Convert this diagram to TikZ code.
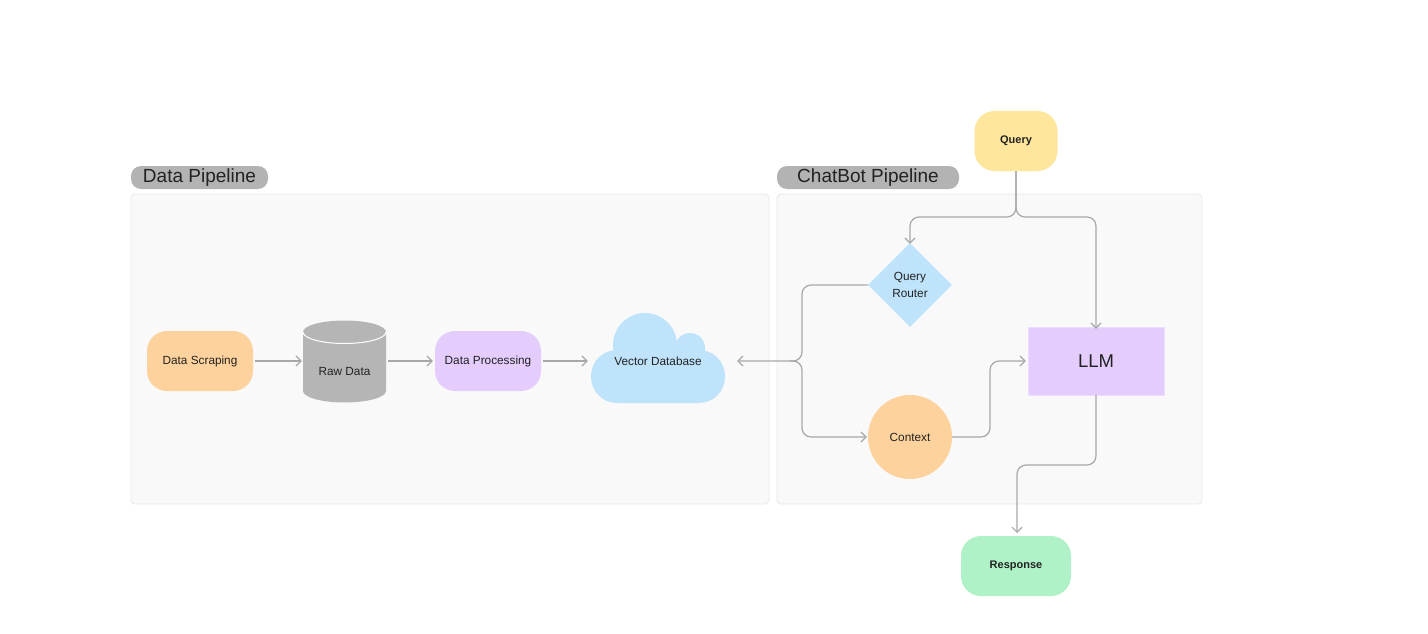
\documentclass[tikz,border=0pt]{standalone}
\usepackage{fontspec}
\setmainfont{Liberation Sans}
\usetikzlibrary{arrows.meta,shapes.geometric}
\definecolor{linec}{HTML}{A8A8A8}
\definecolor{boxfill}{HTML}{F9F9F9}
\definecolor{boxline}{HTML}{E8E8E8}
\definecolor{pillc}{HTML}{B3B3B3}
\definecolor{orangec}{HTML}{FDD29D}
\definecolor{lavc}{HTML}{E4CDFD}
\definecolor{bluec}{HTML}{BEE3FB}
\definecolor{yellowc}{HTML}{FEE69D}
\definecolor{greenc}{HTML}{B0F2C8}
\definecolor{rawc}{HTML}{B5B5B5}
\definecolor{txtc}{HTML}{222222}
\tikzset{
  container/.style={draw=boxline, fill=boxfill, line width=0.8pt, rounded corners=4pt},
  pill/.style={fill=pillc, rounded corners=10pt, minimum height=23pt, inner sep=0pt, text=txtc, font=\fontsize{19}{22}\selectfont},
  small/.style={font=\fontsize{11.8}{17}\selectfont, text=txtc},
  smallb/.style={font=\fontsize{11}{17}\selectfont\bfseries, text=txtc},
  rbox/.style={rounded corners=20pt, inner sep=0pt},
  conn/.style={draw=linec, line width=1.2pt, rounded corners=9pt},
  arr/.style={conn, -{Straight Barb[length=5pt,width=10pt]}},
}
\begin{document}
\begin{tikzpicture}[x=1pt,y=-1pt]
\useasboundingbox[fill=white] (0,0) rectangle (1428,634);
% containers
\draw[container] (131,194) rectangle (769,504);
\draw[container] (777,194) rectangle (1202,504);
\node[pill, minimum width=137pt] (dplabel) at (199.5,177.5) {Data Pipeline};
\node[pill, minimum width=182pt] (cblabel) at (868,177.5) {ChatBot Pipeline};
% data pipeline nodes
\node[rbox, small, fill=orangec, minimum width=106pt, minimum height=60pt] (ds) at (200,361) {Data Scraping};
\node[minimum width=83pt, minimum height=82pt, inner sep=0pt] (raw) at (344.5,361) {};
\fill[rawc] (303,332) -- (303,391) arc[start angle=180,end angle=360,x radius=41.5pt,y radius=11.5pt] -- (386,332) -- cycle;
\fill[rawc] (344.5,332) ellipse[x radius=41.5pt, y radius=11.5pt];
\draw[white, line width=1pt] (303,332) arc[start angle=180,end angle=360,x radius=41.5pt,y radius=11.5pt];
\node[small] (rawtext) at (344.5,371) {Raw Data};
\node[rbox, small, fill=lavc, minimum width=106pt, minimum height=60pt] (dp) at (488,361) {Data Processing};
% cloud
\fill[bluec, rounded corners=26pt] (591,350) rectangle (725,403);
\fill[bluec] (645,345) circle[radius=32pt];
\fill[bluec] (690,348) circle[radius=15pt];
\node[small, minimum width=134pt, minimum height=84pt, inner sep=0pt] (vdb) at (658,361) {Vector Database};
% chatbot nodes
\node[rbox, smallb, fill=yellowc, minimum width=83pt, minimum height=60pt] (q) at (1016,141) {Query};
\node[diamond, fill=bluec, minimum width=84pt, minimum height=84pt, inner sep=0pt, small, align=center] (qr) at (910,285) {Query\\Router};
\node[circle, fill=orangec, minimum size=84pt, inner sep=0pt, small] (ctx) at (910,437) {Context};
\node[draw=lavc!70!white, fill=lavc, minimum width=136pt, minimum height=68pt, inner sep=0pt, text=txtc, font=\fontsize{18.5}{22}\selectfont] (llm) at (1096,361) {LLM};
\node[rbox, smallb, fill=greenc, minimum width=110pt, minimum height=60pt] (resp) at (1016,566) {Response};
\coordinate (respin) at (1017,533);
% connectors
\draw[arr] ([xshift=2pt]ds.east) -- ([xshift=-1pt]raw.west);
\draw[arr] ([xshift=2pt]raw.east) -- ([xshift=-2pt]dp.west);
\draw[arr] ([xshift=2pt]dp.east) -- ([xshift=-3pt]vdb.west);
\draw[arr] (qr.west) -- (802,285) -- (802,361) -- ([xshift=12pt]vdb.east);
\draw[arr] (790,361) -- (802,361) -- (802,437) -- ([xshift=-1pt]ctx.west);
\draw[arr] (q.south) -- (1016,217) -- (910,217) -- ([yshift=-1pt]qr.north);
\draw[arr] (q.south) -- (1016,217) -- (1096,217) -- ([yshift=-2pt]llm.north);
\draw[arr] (ctx.east) -- (990,437) -- (990,361) -- ([xshift=-2pt]llm.west);
\draw[arr] (llm.south) -- (1096,465) -- (1017,465) -- (respin);
\end{tikzpicture}
\end{document}
